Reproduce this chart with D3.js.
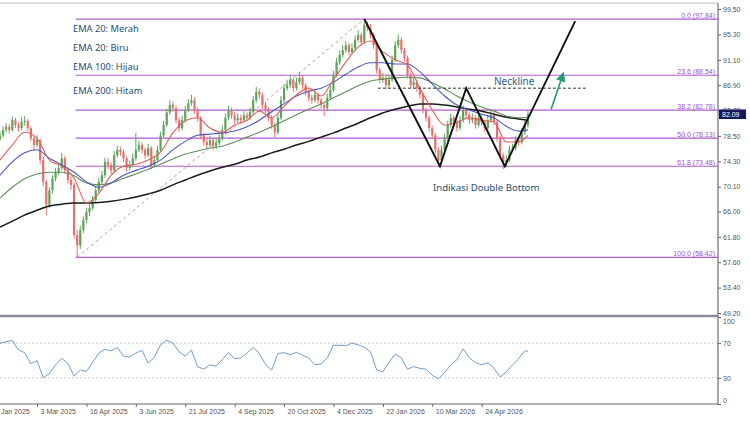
<!DOCTYPE html>
<html><head><meta charset="utf-8">
<script src="https://cdn.jsdelivr.net/npm/d3@7"></script>
<style>body{margin:0;background:#fff}svg{display:block}</style>
</head><body><svg id="c" width="750" height="421"></svg>
<script>
// ---------- DATA ----------
const firstOpen = 78.0;
const closes = [
78.6,79.5,80.0,79.5,81.1,80.3,79.8,80.8,81.0,79.8,
78.1,77.0,77.8,74.5,70.9,67.1,69.5,71.5,72.5,73.2,
74.8,72.8,71.2,70.4,62.1,60.4,62.9,64.6,65.9,66.6,
67.9,69.5,70.9,72.0,74.2,73.7,72.8,75.3,76.2,75.8,
74.8,73.2,73.7,74.8,76.2,77.0,76.2,75.3,76.5,73.7,
74.5,76.2,78.6,80.3,82.4,83.6,83.1,81.1,79.8,81.1,
82.8,83.9,84.4,82.8,81.5,78.6,77.5,77.0,77.8,76.8,
77.3,78.1,79.5,81.5,82.8,81.9,81.1,81.5,81.1,81.9,
81.5,82.5,84.4,85.8,85.3,83.6,82.8,81.5,80.3,79.1,
81.5,84.4,86.4,86.9,87.8,86.4,87.4,88.1,86.9,85.8,
84.8,84.4,85.3,84.4,83.6,83.1,84.8,86.1,88.6,90.7,
91.9,92.7,93.5,92.4,93.0,94.4,95.2,94.0,96.9,96.4,
95.2,93.5,89.4,87.8,88.1,86.9,87.8,91.1,93.5,94.4,
92.7,91.4,88.6,86.9,87.4,86.4,85.3,82.8,81.5,79.8,
78.6,76.2,74.5,76.2,78.1,80.3,81.5,80.8,79.8,81.1,
82.8,82.0,81.1,81.5,80.3,81.5,80.8,79.8,81.1,82.0,
80.8,78.1,75.3,74.2,74.5,76.2,76.5,77.8,77.5,79.1,
80.3,82.09];
const highs = [
79.3,80.1,80.6,80.5,81.7,81.5,80.7,81.6,81.8,81.3,
80.1,78.5,78.6,78.0,75.0,71.2,70.0,72.0,73.2,73.8,
75.7,75.2,73.3,71.8,70.8,63.0,63.6,65.2,66.6,67.2,
68.6,70.2,71.6,72.7,74.9,74.8,74.1,76.0,76.9,76.7,
76.2,75.1,74.4,75.6,79.0,77.7,77.4,76.6,77.2,76.8,
75.2,76.9,79.2,81.0,83.0,84.4,84.2,83.5,81.6,81.8,
83.5,84.6,85.3,84.9,83.2,81.8,79.0,78.0,78.5,78.2,
78.0,78.8,80.2,82.2,83.5,83.2,82.4,82.2,82.0,82.6,
82.4,83.2,85.1,86.6,86.4,85.7,84.1,83.2,81.9,80.7,
82.2,85.1,87.1,87.8,88.6,88.2,88.2,88.9,88.5,87.3,
86.2,85.3,86.0,85.7,84.8,84.0,85.5,86.8,89.3,91.4,
92.6,93.5,94.2,93.9,93.8,95.1,96.0,95.6,97.84,97.4,
97.0,95.6,93.8,89.8,88.9,88.5,88.6,91.8,94.2,95.3,
94.8,93.1,91.8,89.0,88.2,87.8,86.8,85.7,83.2,81.9,
80.2,79.0,76.6,76.9,78.8,81.0,82.2,81.9,81.2,81.8,
83.5,83.2,82.4,82.2,81.9,82.2,81.9,81.2,81.8,82.7,
82.4,81.2,78.5,75.7,75.3,76.9,77.2,78.5,78.3,79.8,
81.0,82.6];
const lows = [
77.6,78.2,79.1,78.9,79.2,79.8,79.2,79.5,80.2,79.3,
77.6,76.2,76.6,73.8,70.2,65.4,66.6,69.0,71.0,72.0,
72.8,72.2,70.6,69.6,61.5,58.42,59.8,62.4,64.0,65.2,
66.2,67.5,69.1,70.5,71.6,73.0,72.2,72.5,74.9,75.2,
74.2,72.6,72.8,73.3,74.4,75.8,75.6,74.7,75.0,73.0,
73.3,74.1,75.9,78.2,80.0,82.0,82.5,80.6,79.2,79.4,
80.7,82.4,83.5,82.2,80.9,78.0,76.9,76.4,76.6,76.2,
76.3,76.9,77.7,79.1,81.1,81.3,80.5,80.6,80.5,80.7,
80.9,81.1,82.1,84.0,84.7,83.0,82.2,80.9,79.7,78.3,
78.8,81.1,84.0,86.0,86.4,85.8,86.0,87.0,86.3,85.2,
84.2,83.8,84.0,83.8,83.0,81.8,82.7,84.4,85.7,88.2,
90.3,91.5,92.3,91.8,92.0,92.6,94.0,93.4,93.7,95.8,
94.6,92.9,88.8,87.2,87.3,86.3,86.5,87.4,90.7,93.0,
92.1,90.8,88.0,86.3,86.5,85.8,84.7,82.2,80.9,79.2,
78.0,75.6,73.5,74.1,75.8,77.7,79.9,80.2,79.2,79.4,
80.7,81.4,80.5,80.6,79.7,79.9,80.2,79.2,79.4,80.7,
80.2,77.5,74.7,73.0,73.4,74.1,75.8,76.1,76.9,77.1,
78.7,79.9];

const emaBars = d3.range(0, 172, 4).concat([171]);
const ema20 = [74.5,77.0,79.1,78.1,74.5,73.5,71.5,67.4,69.0,72.0,
73.5,73.8,74.5,75.8,79.0,81.0,81.5,79.8,79.1,80.3,
81.1,82.6,81.5,83.4,85.3,86.4,85.1,87.8,90.7,93.2,
94.2,92.4,91.1,90.2,86.4,82.8,80.3,80.8,81.5,81.1,
80.8,77.5,77.5,78.6];
const ema50 = [72.0,74.2,75.7,76.2,74.8,73.7,72.5,70.9,70.0,70.7,
72.0,72.8,73.5,74.5,76.2,77.6,78.6,78.8,79.0,79.3,
80.0,81.1,82.5,83.8,85.1,85.9,86.4,87.4,88.7,89.9,
90.6,90.6,90.4,90.4,89.1,87.1,85.1,83.6,82.8,82.1,
81.5,80.1,79.3,79.5];
const ema100 = [68.2,70.0,71.4,72.2,72.5,72.5,71.9,70.7,70.4,70.7,
71.5,72.2,73.0,73.8,74.7,75.5,76.0,76.5,76.8,77.5,
78.3,79.1,80.0,81.0,82.0,82.9,83.8,84.8,85.8,86.8,
87.6,87.9,88.1,88.2,88.1,87.3,86.3,85.1,84.1,83.3,
82.6,81.8,81.5,81.6];
const ema200 = [63.4,64.4,65.4,66.2,66.9,67.2,67.4,67.4,67.5,67.7,
68.0,68.4,68.9,69.5,70.4,71.2,72.0,72.7,73.3,73.8,
74.5,75.0,75.7,76.3,77.0,77.6,78.3,79.0,79.8,80.6,
81.5,82.3,82.9,83.4,83.8,83.8,83.6,83.3,82.9,82.6,
82.1,81.6,81.3,81.1];

const rsiBars = d3.range(0, 172, 2).concat([171]);
const rsi = [69.7,71.6,73,62,59,46,50,30,35,45,
52.5,46.7,32,39,37.5,48,58.5,63,61,65,
55,54,58.5,61.5,47,54,68,73.5,70,60,
55,62,43,40,45,43.5,51,59,52,53,
58.5,65,58,45.5,39,58,59,56.5,59.5,56,
53,45,46,53,67.5,67.5,67,70,68,65,
60,39,37,48,57.5,53,40,43,41,40,
33,29,36,45,51,63.5,53,47.5,45,47.5,
41,31,37,45,52,61.5,60.2];

const priceTicks = [99.5,95.3,91.1,86.9,82.7,78.5,74.3,70.1,66.0,61.8,57.6,53.4,49.2];
const rsiTicks = [100,70,30,0];
const rsiLevels = [70,30];
const dateBars = [-4,12,28,44,60,76,92,108,124,140,156];
const dateLabels = ["16 Jan 2025","3 Mar 2025","16 Apr 2025","3 Jun 2025","21 Jul 2025","4 Sep 2025","20 Oct 2025","4 Dec 2025","22 Jan 2026","10 Mar 2026","24 Apr 2026"];
const fibLevels = [0.0,23.6,38.2,50.0,61.8,100.0];
const fibPrices = [97.84,88.54,82.78,78.13,73.48,58.42];
const fibStartBar = 24.5;
const fibDiag = [[25,58.42],[118,97.84]];
const lastPrice = 82.09;
const wBars = [118,142.5,151,163.5,186.3];
const wPrices = [97.84,73.48,86.4,73.48,97.5];
const necklineBars = [122.4,190.3];
const necklinePrice = 86.4;
const arrowBars = [178.5,182.4];
const arrowPrices = [82.9,88.8];
const legendLabels = ["EMA 20: Merah","EMA 20: Biru","EMA 100: Hijau","EMA 200: Hitam"];

// ---------- CHART ----------
const svg = d3.select('#c');
const axisX = 718;
svg.append('rect').attr('width',750).attr('height',421).attr('fill','#fff');

const x = d3.scaleLinear().domain([0,232]).range([0,716.3]);
const y = d3.scaleLinear().domain([49.2,99.5]).range([313,9]);
const yr = d3.scaleLinear().domain([0,100]).range([404,317]);

const defs = svg.append('defs');
defs.append('clipPath').attr('id','mainClip').append('rect').attr('x',0).attr('y',4).attr('width',axisX).attr('height',311);
defs.append('marker').attr('id','arr').attr('viewBox','0 0 10 10').attr('refX',8).attr('refY',5)
  .attr('markerWidth',6).attr('markerHeight',6).attr('orient','auto')
  .append('path').attr('d','M0,0 L10,5 L0,10 z').attr('fill','#1f9e73');

// top border
svg.append('line').attr('x1',0).attr('x2',axisX).attr('y1',3).attr('y2',3)
  .attr('stroke','#b8b8c8').attr('stroke-width',1);

const main = svg.append('g').attr('clip-path','url(#mainClip)');

// Fibonacci lines
const fibColor = '#b25bd0';
fibPrices.forEach((p,k)=>{
  main.append('line').attr('x1',x(fibStartBar)).attr('x2',axisX)
    .attr('y1',y(p)).attr('y2',y(p)).attr('stroke',fibColor).attr('stroke-width',1.2);
  main.append('text').attr('x',axisX-3).attr('y',y(p)-1.5).attr('text-anchor','end')
    .attr('font-family','Liberation Sans, Arial, sans-serif').attr('font-size',7)
    .attr('fill','#a050c8').text(fibLevels[k].toFixed(1)+' ('+p.toFixed(2)+')');
});
// fib diagonal
main.append('line').attr('x1',x(fibDiag[0][0])).attr('y1',y(fibDiag[0][1]))
  .attr('x2',x(fibDiag[1][0])).attr('y2',y(fibDiag[1][1]))
  .attr('stroke','#cf8f8f').attr('stroke-width',1).attr('stroke-dasharray','3,3');

// candles
const candles = closes.map((c,i)=>({i,o:i?closes[i-1]:firstOpen,h:highs[i],l:lows[i],c}));
const cg = main.append('g');
candles.forEach(d=>{
  const col = d.c>=d.o ? '#5fa35c' : '#e5706c';
  const cx = x(d.i);
  cg.append('line').attr('x1',cx).attr('x2',cx).attr('y1',y(d.h)).attr('y2',y(d.l))
    .attr('stroke',col).attr('stroke-width',1);
  const top = y(Math.max(d.o,d.c)), bot = y(Math.min(d.o,d.c));
  cg.append('rect').attr('x',cx-1.1).attr('width',2.2).attr('y',top).attr('height',Math.max(0.8,bot-top)).attr('fill',col);
});

// EMAs
const emaLine = d3.line().x(d=>x(d[0])).y(d=>y(d[1])).curve(d3.curveMonotoneX);
[[ema200,'#1a1a1a',1.5],[ema100,'#5f8f5a',1.1],[ema50,'#4b57b8',1.1],[ema20,'#e0605c',1.1]].forEach(([arr,col,w])=>{
  main.append('path').datum(emaBars.map((b,k)=>[b,arr[k]])).attr('d',emaLine)
    .attr('fill','none').attr('stroke',col).attr('stroke-width',w);
});

// W pattern
main.append('path').datum(wBars.map((b,k)=>[b,wPrices[k]]))
  .attr('d',d3.line().x(d=>x(d[0])).y(d=>y(d[1])))
  .attr('fill','none').attr('stroke','#111').attr('stroke-width',1.9);
// neckline
main.append('line').attr('x1',x(necklineBars[0])).attr('x2',x(necklineBars[1]))
  .attr('y1',y(necklinePrice)).attr('y2',y(necklinePrice))
  .attr('stroke','#333').attr('stroke-width',1).attr('stroke-dasharray','3,2');
// arrow
main.append('line').attr('x1',x(arrowBars[0])).attr('y1',y(arrowPrices[0]))
  .attr('x2',x(arrowBars[1])).attr('y2',y(arrowPrices[1]))
  .attr('stroke','#1f9e73').attr('stroke-width',1.6).attr('marker-end','url(#arr)');

// annotation texts
const txtCol = '#1f4d72';
const tfont = 'Noto Sans, Lato, sans-serif';
const legendY = [32,51,70,94];
legendLabels.forEach((t,k)=>{
  svg.append('text').attr('x',73).attr('y',legendY[k]).attr('font-family',tfont)
    .attr('font-size',9.3).attr('fill',txtCol).text(t);
});
svg.append('text').attr('x',494).attr('y',85).attr('font-family',tfont).attr('font-size',10)
  .attr('fill','#2c5e86').text('Neckline');
svg.append('text').attr('x',433).attr('y',191).attr('font-family',tfont).attr('font-size',9.6)
  .attr('fill',txtCol).text('Indikasi Double Bottom');

// RSI panel
rsiLevels.forEach(v=>{
  svg.append('line').attr('x1',0).attr('x2',axisX).attr('y1',yr(v)).attr('y2',yr(v))
    .attr('stroke','#cfc4c4').attr('stroke-width',1).attr('stroke-dasharray','2,2');
});
svg.append('path').datum(rsiBars.map((b,k)=>[b,rsi[k]]))
  .attr('d',d3.line().x(d=>x(d[0])).y(d=>yr(d[1])))
  .attr('fill','none').attr('stroke','#6b9fcf').attr('stroke-width',1);

// panel separator
svg.append('line').attr('x1',0).attr('x2',axisX).attr('y1',316).attr('y2',316)
  .attr('stroke','#8a8aa0').attr('stroke-width',2.5);

// axes
const afont = 'Liberation Sans, Arial, sans-serif';
const yAxis = d3.axisRight(y).tickValues(priceTicks).tickSize(3).tickPadding(2).tickFormat(d3.format('.2f'));
const ga = svg.append('g').attr('transform',`translate(${axisX},0)`).call(yAxis);
ga.select('.domain').remove();
ga.selectAll('text').attr('font-family',afont).attr('font-size',7).attr('fill','#555');
ga.selectAll('line').attr('stroke','#666');

const rAxis = d3.axisRight(yr).tickValues(rsiTicks).tickSize(3).tickPadding(2).tickFormat(d3.format('d'));
const gr = svg.append('g').attr('transform',`translate(${axisX},0)`).call(rAxis);
gr.select('.domain').remove();
gr.selectAll('text').attr('font-family',afont).attr('font-size',7).attr('fill','#555')
  .attr('dy',d=> d===100 ? '0.95em' : (d===0 ? '-0.2em' : '0.32em'));
gr.selectAll('line').attr('stroke','#666');

svg.append('line').attr('x1',axisX).attr('x2',axisX).attr('y1',3).attr('y2',404)
  .attr('stroke','#6d6d80').attr('stroke-width',1.2);

const xAxis = d3.axisBottom(x).tickValues(dateBars).tickSize(3).tickPadding(2)
  .tickFormat((d,k)=>dateLabels[k]);
const gx = svg.append('g').attr('transform','translate(0,404)').call(xAxis);
gx.select('.domain').attr('d',`M0,0H${axisX}`).attr('stroke','#666');
gx.selectAll('text').attr('font-family',afont).attr('font-size',7).attr('fill','#555')
  .attr('text-anchor','start').attr('dx',3);
gx.selectAll('line').attr('stroke','#666');

// current price label
const py = y(lastPrice);
svg.append('rect').attr('x',axisX+1).attr('y',py-4.8).attr('width',27).attr('height',9.6).attr('fill','#17175e');
svg.append('text').attr('x',axisX+4).attr('y',py+2.6).attr('font-family',afont).attr('font-size',7)
  .attr('fill','#fff').text(lastPrice.toFixed(2));
</script></body></html>
